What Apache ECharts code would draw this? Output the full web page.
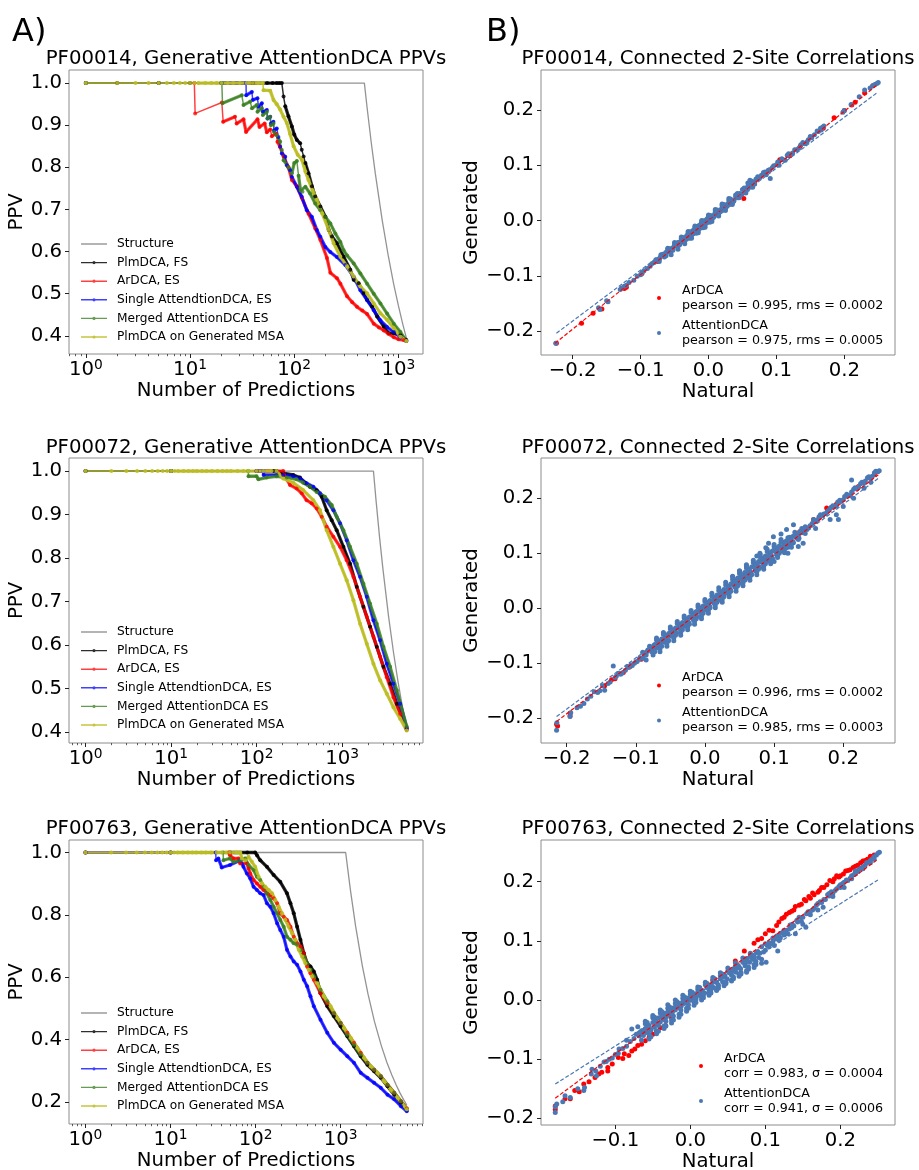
<!DOCTYPE html>
<html>
<head>
<meta charset="utf-8">
<script src="https://cdn.jsdelivr.net/npm/echarts@6/dist/echarts.min.js"></script>
<style>
  html, body { margin: 0; padding: 0; background: #ffffff; }
  #chart { width: 919px; height: 1170px; }
</style>
</head>
<body>
<div id="chart"></div>
<script>
// ---------- PPV curves: [number of predictions, PPV] ----------
const methodNames = ['Structure', 'PlmDCA, FS', 'ArDCA, ES', 'Single AttendtionDCA, ES', 'Merged AttentionDCA ES', 'PlmDCA on Generated MSA'];

// PF00014
const a1Structure = [[1,1],[471,1],[500,0.942],[550,0.856],[600,0.785],[700,0.673],[800,0.589],[900,0.523],[1000,0.471],[1100,0.428],[1194,0.394]];
const a1PlmFS = [[1,1],[2,1],[5,1],[10,1],[20,1],[40,1],[55,1],[62,1],[68,1],[72,1],[76,1],[79,0.968],[82,0.945],[88,0.921],[95,0.897],[100,0.878],[106,0.865],[114,0.857],[118,0.842],[123,0.826],[128,0.81],[137,0.786],[148,0.755],[159,0.731],[178,0.707],[199,0.683],[214,0.652],[230,0.636],[257,0.62],[298,0.588],[345,0.557],[372,0.533],[415,0.525],[464,0.501],[500,0.485],[558,0.47],[624,0.446],[723,0.422],[807,0.406],[902,0.406],[1045,0.402],[1190,0.39]];
const a1ArDCA = [[1,1],[5,1],[11,1],[11.2,0.928],[20.2,0.954],[20.8,0.908],[27,0.92],[28,0.904],[32.6,0.914],[34.5,0.884],[44.4,0.914],[46.4,0.896],[52,0.904],[54.6,0.883],[58.8,0.89],[61,0.874],[67,0.88],[69,0.861],[73,0.849],[79,0.826],[88,0.8],[95,0.77],[106,0.755],[118,0.728],[137,0.69],[159,0.655],[178,0.628],[206,0.585],[222,0.55],[257,0.537],[277,0.524],[321,0.494],[360,0.48],[400,0.469],[450,0.46],[500,0.452],[579,0.429],[650,0.42],[723,0.413],[800,0.405],[902,0.397],[1000,0.392],[1125,0.39],[1190,0.388]];
const a1Single = [[1,1],[5,1],[20,1],[34.5,1],[34.6,0.971],[39.2,0.979],[40,0.96],[44.4,0.964],[45.4,0.944],[48.9,0.952],[50,0.932],[54.6,0.936],[55.4,0.916],[58.8,0.92],[59.7,0.904],[63.2,0.908],[64,0.888],[68,0.892],[70.5,0.872],[73.3,0.849],[76,0.833],[82,0.825],[85,0.805],[91.5,0.793],[95,0.777],[106,0.754],[118,0.73],[132,0.698],[148,0.682],[165,0.651],[178,0.635],[199,0.611],[222,0.599],[257,0.587],[309,0.568],[372,0.54],[431,0.508],[500,0.485],[579,0.461],[671,0.437],[778,0.421],[902,0.409],[1045,0.397],[1190,0.388]];
const a1Merged = [[1,1],[5,1],[20.2,1],[20.5,0.952],[31.4,0.971],[32.6,0.948],[37.8,0.956],[39.3,0.94],[43.8,0.948],[44.4,0.932],[48.9,0.94],[50,0.924],[54.6,0.932],[55.4,0.916],[58.8,0.92],[59.7,0.9],[63.2,0.904],[64,0.884],[68,0.876],[73.3,0.861],[76,0.841],[79,0.817],[88,0.8],[95,0.786],[100,0.81],[106,0.815],[110,0.78],[115,0.745],[120,0.742],[128,0.754],[142,0.738],[159,0.714],[178,0.698],[199,0.682],[222,0.667],[248,0.643],[277,0.623],[298,0.603],[321,0.591],[372,0.572],[431,0.548],[500,0.524],[579,0.5],[671,0.477],[778,0.453],[902,0.429],[1045,0.409],[1190,0.388]];
const a1PlmGen = [[1,1],[2,1],[3,1],[4,1],[5,1],[6,1],[7,1],[8,1],[9,1],[10,1],[11,1],[12,1],[14,1],[16,1],[18,1],[20,1],[23,1],[26,1],[30,1],[35,1],[40,1],[45,1],[50,1],[50.7,0.983],[58.8,0.982],[63.3,0.96],[68,0.95],[73.3,0.937],[79,0.92],[85,0.905],[91,0.88],[98.6,0.85],[108,0.83],[118.5,0.818],[128,0.79],[137,0.77],[150,0.745],[165,0.723],[185,0.691],[214,0.652],[239,0.62],[277,0.588],[321,0.565],[372,0.541],[431,0.517],[500,0.501],[579,0.477],[671,0.454],[778,0.438],[902,0.418],[1045,0.398],[1190,0.388]];

// PF00072
const a2Structure = [[1,1],[2330,1],[2500,0.932],[2750,0.847],[3000,0.777],[3500,0.666],[4000,0.583],[4500,0.518],[5000,0.466],[5700,0.409]];
const a2PlmFS = [[1,1],[10,1],[100,1],[157,1],[171,1],[205,0.995],[269,0.991],[322,0.985],[368,0.973],[422,0.964],[505,0.956],[578,0.941],[661,0.91],[757,0.887],[866,0.864],[1037,0.826],[1241,0.787],[1486,0.734],[1778,0.688],[2129,0.642],[2548,0.596],[3051,0.55],[3652,0.511],[4372,0.465],[5700,0.408]];
const a2ArDCA = [[1,1],[10,1],[100,1],[205,1],[210,0.991],[246,0.968],[294,0.96],[337,0.949],[385,0.933],[441,0.926],[505,0.914],[578,0.895],[661,0.872],[792,0.849],[948,0.826],[1134,0.795],[1358,0.757],[1626,0.711],[1946,0.665],[2329,0.619],[2788,0.573],[3338,0.526],[3996,0.48],[4783,0.442],[5700,0.405]];
const a2Single = [[1,1],[10,1],[100,1],[120,1],[121,0.991],[171,0.991],[205,0.991],[269,0.988],[322,0.983],[385,0.972],[461,0.964],[552,0.949],[661,0.933],[792,0.91],[948,0.88],[1134,0.841],[1358,0.795],[1626,0.757],[1946,0.711],[2329,0.657],[2788,0.611],[3338,0.557],[3996,0.511],[4783,0.465],[5700,0.41]];
const a2Merged = [[1,1],[10,1],[80,1],[80.5,0.988],[100,0.988],[105,0.981],[131,0.985],[171,0.988],[225,0.985],[294,0.981],[352,0.973],[422,0.964],[505,0.952],[632,0.941],[757,0.922],[866,0.895],[1037,0.864],[1241,0.826],[1486,0.787],[1778,0.741],[2129,0.695],[2548,0.649],[3051,0.596],[3652,0.55],[4372,0.496],[5700,0.413]];
const a2PlmGen = [[1,1],[2,1],[3,1],[4,1],[5,1],[6,1],[7,1],[8,1],[9,1],[10,1],[11,1],[12,1],[14,1],[16,1],[18,1],[20,1],[23,1],[26,1],[30,1],[35,1],[40,1],[45,1],[50,1],[60,1],[70,1],[80,1],[100,1],[120,1],[150,1],[171,1],[205,0.983],[269,0.973],[352,0.956],[461,0.933],[552,0.91],[661,0.864],[792,0.826],[948,0.787],[1134,0.749],[1358,0.703],[1626,0.649],[1946,0.603],[2329,0.557],[2788,0.519],[3338,0.488],[3996,0.457],[4783,0.431],[5700,0.404]];

// PF00763
const a3Structure = [[1,1],[1146,1],[1300,0.882],[1500,0.764],[1800,0.637],[2100,0.546],[2500,0.458],[3000,0.382],[3500,0.327],[4000,0.287],[4500,0.255],[5000,0.229],[5500,0.208],[6000,0.191]];
const a3PlmFS = [[1,1],[10,1],[50,1],[80,1],[99,1],[104,0.991],[113.5,0.975],[136,0.954],[163,0.928],[195,0.906],[234,0.869],[257,0.837],[281,0.805],[308,0.762],[337,0.72],[369,0.677],[404,0.645],[442,0.635],[484,0.619],[530,0.592],[580,0.549],[697,0.507],[834,0.475],[1000,0.443],[1199,0.411],[1436,0.379],[1722,0.347],[2065,0.32],[2477,0.299],[2965,0.278],[3556,0.251],[4266,0.224],[5117,0.198],[6000,0.177]];
const a3ArDCA = [[1,1],[10,1],[48,1],[50,0.991],[55,0.981],[63,0.981],[65.9,0.965],[79,0.965],[82.6,0.949],[86.5,0.933],[94.7,0.912],[103.7,0.901],[113.5,0.89],[124,0.88],[136,0.869],[149,0.864],[163,0.853],[179,0.837],[195,0.805],[214,0.794],[234,0.784],[257,0.762],[281,0.73],[308,0.709],[337,0.699],[369,0.677],[404,0.635],[442,0.613],[484,0.592],[580,0.549],[697,0.517],[834,0.485],[1000,0.454],[1199,0.422],[1436,0.39],[1722,0.358],[2065,0.326],[2477,0.304],[2965,0.283],[3556,0.256],[4266,0.23],[5117,0.203],[6000,0.18]];
const a3Single = [[1,1],[10,1],[34,1],[34.3,0.975],[36.5,0.981],[40,0.952],[50,0.96],[66,0.975],[72,0.954],[79,0.933],[86.5,0.917],[94.7,0.89],[103.7,0.88],[113.5,0.869],[124,0.864],[136,0.837],[149,0.826],[163,0.805],[179,0.773],[195,0.752],[214,0.73],[234,0.688],[257,0.667],[281,0.651],[308,0.64],[337,0.619],[369,0.592],[404,0.571],[442,0.539],[484,0.507],[580,0.464],[697,0.422],[834,0.39],[1000,0.368],[1199,0.347],[1436,0.326],[1722,0.294],[2065,0.278],[2477,0.262],[2965,0.246],[3556,0.224],[4266,0.209],[5117,0.187],[6000,0.171]];
const a3Merged = [[1,1],[10,1],[41.5,1],[41.9,0.975],[50,0.981],[55,0.97],[66,0.975],[75.5,0.981],[82.6,0.96],[94.7,0.944],[103.7,0.922],[113.5,0.912],[124,0.89],[136,0.869],[149,0.848],[163,0.826],[179,0.805],[195,0.784],[214,0.762],[234,0.73],[257,0.72],[281,0.709],[308,0.704],[337,0.688],[369,0.667],[404,0.645],[442,0.624],[484,0.603],[580,0.56],[697,0.523],[834,0.485],[1000,0.454],[1199,0.416],[1436,0.384],[1722,0.353],[2065,0.326],[2477,0.304],[2965,0.283],[3556,0.256],[4266,0.23],[5117,0.203],[6000,0.177]];
const a3PlmGen = [[1,1],[2,1],[3,1],[4,1],[5,1],[6,1],[7,1],[8,1],[9,1],[10,1],[11,1],[12,1],[14,1],[16,1],[18,1],[20,1],[23,1],[26,1],[30,1],[35,1],[40,1],[45,1],[50,1],[60,1],[66,1],[69,0.981],[75.5,0.975],[82.6,0.986],[90.5,0.97],[99,0.954],[108.5,0.922],[118.8,0.901],[130,0.89],[142.5,0.88],[156,0.869],[170.7,0.848],[187,0.826],[204.6,0.805],[224,0.784],[245,0.762],[268.6,0.741],[294,0.72],[322,0.688],[352.6,0.667],[386,0.645],[423,0.624],[463,0.603],[530,0.581],[635,0.539],[762,0.507],[913,0.47],[1094,0.438],[1312,0.406],[1574,0.374],[1888,0.342],[2261,0.315],[2710,0.294],[3249,0.267],[3896,0.24],[4667,0.214],[6000,0.177]];

// ---------- connected 2-site correlations: [natural, generated] ----------
const b1ArDCA = [[-0.224,-0.222],[-0.187,-0.186],[-0.170,-0.168],[-0.157,-0.160],[-0.124,-0.123],[-0.121,-0.121],[-0.098,-0.096],[-0.075,-0.074],[-0.057,-0.057],[-0.040,-0.039],[-0.020,-0.019],[0.000,0.001],[0.020,0.021],[0.035,0.036],[0.052,0.040],[0.068,0.069],[0.090,0.091],[0.105,0.110],[0.120,0.117],[0.135,0.134],[0.150,0.151],[0.169,0.167],[0.185,0.186],[0.200,0.199],[0.211,0.209],[0.216,0.214],[0.230,0.231],[0.242,0.244]];
const b1Attention = [[-0.225,-0.222],[-0.160,-0.161],[-0.148,-0.147],[-0.128,-0.122],[-0.124,-0.119],[-0.121,-0.117],[-0.098,-0.094],[-0.095,-0.091],[-0.086,-0.083],[-0.083,-0.078],
  [-0.080,-0.076],[-0.076,-0.071],[-0.072,-0.069],[-0.070,-0.064],[-0.066,-0.062],[-0.063,-0.058],[-0.060,-0.057],[-0.058,-0.052],[-0.055,-0.051],[-0.052,-0.049],[-0.050,-0.045],[-0.047,-0.044],[-0.045,-0.040],[-0.042,-0.039],[-0.040,-0.035],[-0.038,-0.036],[-0.036,-0.031],[-0.034,-0.033],[-0.032,-0.027],[-0.030,-0.029],[-0.029,-0.024],[-0.027,-0.026],[-0.026,-0.021],[-0.024,-0.023],[-0.023,-0.018],[-0.021,-0.020],[-0.020,-0.015],[-0.018,-0.017],[-0.017,-0.012],[-0.015,-0.014],[-0.014,-0.009],[-0.012,-0.011],[-0.011,-0.006],[-0.009,-0.008],[-0.008,-0.003],[-0.006,-0.005],[-0.005,0.000],[-0.003,-0.002],[-0.002,0.003],[0.000,0.001],[0.001,0.006],[0.003,0.003],[0.005,0.008],[0.007,0.006],[0.009,0.012],[0.011,0.010],[0.013,0.016],[0.015,0.014],[0.018,0.020],[0.020,0.018],[0.023,0.025],[0.025,0.023],[0.028,0.030],[0.031,0.029],[0.034,0.036],[0.037,0.035],[0.040,0.043],[0.043,0.041],[0.046,0.049],[0.049,0.047],[0.052,0.056],[0.055,0.053],[0.058,0.062],[0.061,0.060],[0.064,0.068],[0.068,0.066],[0.072,0.075],[0.076,0.078],
  [-0.070,-0.062],[-0.065,-0.066],[-0.060,-0.052],[-0.055,-0.056],[-0.050,-0.042],[-0.045,-0.047],[-0.040,-0.032],[-0.035,-0.037],[-0.030,-0.022],[-0.025,-0.028],[-0.020,-0.012],[-0.015,-0.018],[-0.010,-0.002],[-0.005,-0.008],[0.000,0.008],[0.005,0.002],[0.010,0.017],[0.015,0.012],[0.020,0.027],[0.025,0.022],[0.030,0.036],[0.035,0.031],[0.040,0.046],[0.045,0.041],[0.050,0.056],[0.055,0.050],[0.060,0.066],[0.065,0.060],[0.070,0.075],
  [-0.0775,-0.071],[-0.0725,-0.074],[-0.0675,-0.061],[-0.0625,-0.064],[-0.0575,-0.051],[-0.0525,-0.054],[-0.0475,-0.041],[-0.0425,-0.044],[-0.0375,-0.031],[-0.0325,-0.034],[-0.0275,-0.021],[-0.0225,-0.024],[-0.0175,-0.011],[-0.0125,-0.014],[-0.0075,-0.001],[-0.0025,-0.004],[0.0025,0.009],[0.0075,0.006],[0.0125,0.019],[0.0175,0.016],[0.0225,0.029],[0.0275,0.026],[0.0325,0.039],[0.0375,0.036],[0.0425,0.049],[0.0475,0.046],[0.0525,0.059],[0.0575,0.056],[0.0625,0.069],[0.0675,0.066],[0.0725,0.079],
  [-0.060,-0.050],[-0.050,-0.040],[-0.040,-0.030],[-0.030,-0.020],[-0.020,-0.010],[-0.010,0.000],[0.000,0.010],[0.010,0.020],[0.020,0.030],[0.030,0.040],[-0.055,-0.062],[-0.045,-0.052],[-0.035,-0.042],[-0.025,-0.032],[-0.015,-0.022],[-0.005,-0.012],[0.005,-0.002],[0.015,0.008],[0.025,0.018],[0.035,0.029],
  [0.058,0.068],[0.061,0.073],[0.064,0.071],[-0.028,-0.032],[-0.018,-0.023],[-0.008,-0.013],[0.002,-0.003],
  [-0.090,-0.087],[-0.100,-0.098],[-0.105,-0.101],[-0.110,-0.108],[-0.117,-0.112],[-0.130,-0.125],[-0.150,-0.145],[-0.162,-0.158],
  [0.078,0.082],[0.083,0.088],[0.090,0.092],[0.096,0.099],[0.102,0.106],[0.110,0.110],[0.116,0.118],[0.121,0.120],[0.127,0.128],[0.133,0.131],[0.139,0.141],[0.145,0.142],[0.150,0.152],[0.156,0.155],[0.162,0.161],[0.166,0.164],[0.170,0.171],
  [0.081,0.087],[0.085,0.083],[0.088,0.091],[0.091,0.076],[0.094,0.096],[0.100,0.101],[0.104,0.100],[0.108,0.112],[0.113,0.109],[0.118,0.121],[0.124,0.122],[0.130,0.128],[0.136,0.137],[0.142,0.139],[0.147,0.146],[0.152,0.150],[0.160,0.162],[0.165,0.167],[0.168,0.169],[0.198,0.196],[0.200,0.199],[0.210,0.210],[0.222,0.224],[0.230,0.236],[0.238,0.240],[0.242,0.244],[0.245,0.246],[0.248,0.248],[0.250,0.250]];
const b1ArDCAFit = [[-0.226,-0.222],[0.248,0.245]];
const b1AttentionFit = [[-0.224,-0.204],[0.248,0.231]];

const b2ArDCA = [[-0.2145,-0.211],[-0.213,-0.214],[-0.195,-0.191],[-0.195,-0.196],[-0.145,-0.141],[-0.135,-0.130],[-0.130,-0.128],[-0.118,-0.117],[-0.108,-0.106],[-0.092,-0.093],[-0.070,-0.070],[-0.050,-0.049],[-0.030,-0.030],[0.000,0.001],[0.030,0.031],[0.060,0.061],[0.090,0.091],[0.137,0.139],[0.142,0.140],[0.157,0.161],[0.165,0.164],[0.176,0.182],[0.190,0.189],[0.205,0.204],[0.222,0.221],[0.239,0.236],[0.245,0.243]];
const b2Attention = [[-0.2145,-0.222],[-0.214,-0.208],[-0.195,-0.197],[-0.194,-0.190],[-0.180,-0.178],[-0.170,-0.165],[-0.160,-0.152],[-0.152,-0.150],[-0.145,-0.149],[-0.140,-0.137],[-0.1325,-0.105],[-0.130,-0.126],[-0.125,-0.118],[-0.120,-0.118],[-0.112,-0.106],[-0.110,-0.108],[-0.105,-0.104],[-0.100,-0.098],[-0.098,-0.097],[-0.095,-0.093],[-0.094,-0.090],[-0.090,-0.091],[-0.088,-0.086],[-0.086,-0.083],[-0.084,-0.079],
  [-0.080,-0.074],[-0.077,-0.079],[-0.074,-0.068],[-0.071,-0.073],[-0.068,-0.062],[-0.065,-0.068],[-0.062,-0.057],[-0.059,-0.062],[-0.056,-0.051],[-0.053,-0.057],[-0.050,-0.045],[-0.047,-0.051],[-0.044,-0.040],[-0.041,-0.045],[-0.038,-0.034],[-0.035,-0.039],[-0.032,-0.028],[-0.029,-0.033],[-0.026,-0.023],[-0.023,-0.027],[-0.020,-0.017],[-0.017,-0.021],[-0.014,-0.011],[-0.011,-0.015],[-0.008,-0.005],[-0.005,-0.009],[-0.002,0.001],[0.001,-0.003],[0.004,0.007],[0.007,0.003],[0.010,0.013],[0.013,0.009],[0.016,0.020],[0.019,0.015],[0.022,0.026],[0.025,0.021],[0.028,0.033],[0.031,0.027],[0.034,0.039],[0.037,0.033],[0.040,0.046],[0.043,0.039],[0.046,0.052],[0.049,0.045],[0.052,0.058],[0.055,0.050],[0.058,0.064],[0.061,0.056],[0.064,0.070],[0.067,0.062],[0.070,0.076],[0.073,0.068],[0.076,0.081],[0.079,0.074],[0.082,0.088],[0.085,0.080],[0.088,0.094],[0.091,0.086],[0.094,0.100],[0.097,0.091],[0.100,0.106],[0.104,0.097],[0.108,0.112],[0.112,0.104],[0.116,0.119],[0.120,0.111],[0.124,0.126],[0.128,0.119],[0.132,0.131],[0.136,0.127],
  [-0.090,-0.080],[-0.085,-0.094],[-0.080,-0.069],[-0.075,-0.085],[-0.070,-0.058],[-0.065,-0.074],[-0.060,-0.048],[-0.055,-0.064],[-0.050,-0.038],[-0.045,-0.054],[-0.040,-0.028],[-0.035,-0.044],[-0.030,-0.018],[-0.025,-0.034],[-0.020,-0.008],[-0.015,-0.024],[-0.010,0.002],[-0.005,-0.014],[0.000,0.012],[0.005,-0.004],[0.010,0.022],[0.015,0.006],[0.020,0.032],[0.025,0.016],[0.030,0.042],[0.035,0.026],[0.040,0.052],[0.045,0.036],[0.050,0.063],[0.055,0.046],[0.060,0.073],[0.065,0.056],[0.070,0.083],[0.075,0.066],[0.080,0.093],[0.085,0.076],[0.090,0.103],[0.095,0.086],[0.100,0.112],[0.105,0.096],[0.110,0.120],[0.115,0.106],[0.120,0.128],[0.125,0.116],[0.130,0.138],[0.135,0.125],[0.140,0.145],[0.145,0.136],
  [-0.070,-0.054],[-0.060,-0.044],[-0.050,-0.034],[-0.040,-0.024],[-0.030,-0.014],[-0.020,-0.004],[-0.010,0.006],[0.000,0.016],[0.010,0.027],[0.020,0.037],[0.030,0.047],[0.040,0.057],[0.050,0.067],[0.060,0.077],[0.070,0.087],[0.080,0.097],[0.090,0.107],[0.100,0.116],[0.110,0.125],
  [-0.065,-0.079],[-0.055,-0.069],[-0.045,-0.059],[-0.035,-0.049],[-0.025,-0.039],[-0.015,-0.029],[-0.005,-0.019],[0.005,-0.009],[0.015,0.001],[0.025,0.011],[0.035,0.021],[0.045,0.031],[0.055,0.041],[0.065,0.051],[0.075,0.061],[0.085,0.071],[0.095,0.081],[0.105,0.092],[0.115,0.101],[0.125,0.111],
  [-0.0675,-0.059],[-0.0575,-0.049],[-0.0475,-0.039],[-0.0375,-0.029],[-0.0275,-0.019],[-0.0175,-0.009],[-0.0075,0.001],[0.0025,0.011],[0.0125,0.021],[0.0225,0.031],[0.0325,0.041],[0.0425,0.051],[0.0525,0.061],[0.0625,0.071],[0.0725,0.081],[0.0825,0.091],[0.0925,0.101],[0.1025,0.110],[0.1125,0.120],[0.1225,0.129],
  [-0.0725,-0.079],[-0.0625,-0.069],[-0.0525,-0.059],[-0.0425,-0.049],[-0.0325,-0.039],[-0.0225,-0.029],[-0.0125,-0.019],[-0.0025,-0.009],[0.0075,0.001],[0.0175,0.011],[0.0275,0.021],[0.0375,0.031],[0.0475,0.041],[0.0575,0.051],[0.0675,0.061],[0.0775,0.071],[0.0875,0.081],[0.0975,0.091],[0.1075,0.100],[0.1175,0.110],
  [-0.085,-0.085],[-0.075,-0.074],[-0.065,-0.063],[-0.055,-0.053],[-0.045,-0.043],[-0.035,-0.033],[-0.025,-0.023],[-0.015,-0.013],[-0.005,-0.003],[0.005,0.007],[0.015,0.017],[0.025,0.027],[0.035,0.037],[0.045,0.047],[0.055,0.057],[0.065,0.067],[0.075,0.077],[0.085,0.087],[0.095,0.097],[0.105,0.106],[0.115,0.115],[0.125,0.124],[0.135,0.133],
  [-0.0875,-0.083],[-0.0825,-0.076],[-0.0775,-0.077],[-0.0725,-0.066],[-0.0675,-0.067],[-0.0625,-0.056],[-0.0575,-0.057],[-0.0525,-0.046],[-0.0475,-0.047],[-0.0425,-0.036],[-0.0375,-0.037],[-0.0325,-0.026],[-0.0275,-0.027],[-0.0225,-0.016],[-0.0175,-0.017],[-0.0125,-0.006],[-0.0075,-0.007],[-0.0025,0.004],[0.0025,0.003],[0.0075,0.014],[0.0125,0.013],[0.0175,0.024],[0.0225,0.023],[0.0275,0.034],[0.0325,0.033],[0.0375,0.044],[0.0425,0.043],[0.0475,0.055],[0.0525,0.053],[0.0575,0.065],[0.0625,0.063],[0.0675,0.075],[0.0725,0.073],[0.0775,0.085],[0.0825,0.083],[0.0875,0.095],[0.0925,0.093],[0.0975,0.104],[0.1025,0.102],[0.1075,0.113],[0.1125,0.111],[0.1175,0.122],[0.1225,0.120],[0.1275,0.131],[0.1325,0.128],[0.1375,0.139],[0.1425,0.140],[0.1475,0.143],
  [0.152,0.150],[0.157,0.161],[0.162,0.160],[0.167,0.170],[0.172,0.171],[0.177,0.176],[0.182,0.183],[0.187,0.184],[0.192,0.193],[0.197,0.194],[0.202,0.203],[0.207,0.204],[0.212,0.211],[0.217,0.219],[0.222,0.220],[0.227,0.229],[0.232,0.231],[0.237,0.239],[0.242,0.240],[0.247,0.249],
  [-0.102,-0.100],[-0.107,-0.103],[-0.115,-0.113],[-0.122,-0.120],[-0.128,-0.123],[-0.137,-0.134],[-0.148,-0.141],[-0.155,-0.153],[-0.165,-0.160],[-0.175,-0.173],[-0.185,-0.181],
  [-0.060,-0.060],[-0.030,-0.030],[0.000,0.000],[0.030,0.030],[0.060,0.060],[0.090,0.090],[0.120,0.118],
  [0.040,0.058],[0.050,0.068],[0.060,0.079],[0.075,0.095],[0.0795,0.100],[0.088,0.110],[0.092,0.118],[0.099,0.130],[0.110,0.135],[0.118,0.143],[0.128,0.1515],[0.100,0.085],[0.120,0.100],[0.135,0.112],[0.142,0.118],[0.160,0.145],[0.181,0.161],[0.193,0.161],[0.190,0.170],[0.200,0.185],[0.215,0.200],[0.230,0.218],[0.240,0.229],[0.212,0.233],
  [0.140,0.137],[0.145,0.148],[0.150,0.146],[0.155,0.154],[0.160,0.157],[0.165,0.166],[0.170,0.168],[0.175,0.172],[0.180,0.179],[0.185,0.186],[0.190,0.186],[0.195,0.196],[0.200,0.197],[0.205,0.207],[0.210,0.205],[0.215,0.216],[0.220,0.217],[0.225,0.226],[0.230,0.227],[0.235,0.237],[0.240,0.236],[0.245,0.246],[0.250,0.248],[0.252,0.250]];
const b2ArDCAFit = [[-0.2145,-0.206],[0.2506,0.2424]];
const b2AttentionFit = [[-0.2145,-0.197],[0.2506,0.236]];

const b3ArDCA = [[-0.180,-0.179],[-0.180,-0.185],[-0.167,-0.167],[-0.160,-0.167],[-0.154,-0.153],[-0.148,-0.155],[-0.142,-0.142],[-0.135,-0.138],[-0.127,-0.131],[-0.122,-0.125],[-0.118,-0.122],[-0.110,-0.114],[-0.110,-0.120],[-0.104,-0.108],[-0.096,-0.097],[-0.090,-0.099],[-0.088,-0.091],[-0.082,-0.094],[-0.078,-0.086],[-0.074,-0.083],[-0.070,-0.077],[-0.065,-0.075],[-0.060,-0.069],[-0.055,-0.064],[-0.050,-0.058],[-0.045,-0.053],[-0.040,-0.047],[-0.035,-0.045],[-0.033,-0.043],[-0.025,-0.030],[0.000,0.000],[0.030,0.034],[0.060,0.066],[0.072,0.083],[0.085,0.096],[0.090,0.102],[0.095,0.104],[0.100,0.112],[0.105,0.118],[0.110,0.117],[0.115,0.126],[0.118,0.132],[0.122,0.138],[0.125,0.140],[0.128,0.145],[0.132,0.148],[0.135,0.150],[0.138,0.152],[0.140,0.158],[0.145,0.160],[0.148,0.162],[0.152,0.170],[0.154,0.168],[0.158,0.175],[0.160,0.172],[0.163,0.181],[0.165,0.178],[0.170,0.182],[0.172,0.185],[0.175,0.190],[0.178,0.190],[0.182,0.195],[0.186,0.202],[0.190,0.200],[0.192,0.205],[0.195,0.210],[0.198,0.208],[0.200,0.210],[0.204,0.213],[0.207,0.218],[0.210,0.219],[0.213,0.220],[0.217,0.224],[0.220,0.226],[0.223,0.228],[0.227,0.232],[0.230,0.235],[0.233,0.236],[0.236,0.238],[0.240,0.243],[0.242,0.242],[0.245,0.245]];
const b3Attention = [[-0.180,-0.190],[-0.180,-0.181],[-0.178,-0.176],[-0.170,-0.172],[-0.167,-0.162],[-0.160,-0.165],[-0.150,-0.150],[-0.142,-0.153],[-0.141,-0.148],[-0.132,-0.125],[-0.131,-0.117],[-0.126,-0.120],[-0.125,-0.128],[-0.120,-0.112],[-0.115,-0.105],[-0.112,-0.104],[-0.108,-0.100],[-0.104,-0.098],[-0.100,-0.092],[-0.096,-0.090],[-0.095,-0.083],[-0.090,-0.082],[-0.085,-0.078],[-0.085,-0.068],[-0.078,-0.049],[-0.080,-0.070],[-0.075,-0.065],[-0.072,-0.058],[-0.068,-0.061],[-0.065,-0.052],[-0.062,-0.055],
  [-0.060,-0.048],[-0.058,-0.055],[-0.055,-0.043],[-0.053,-0.050],[-0.050,-0.038],[-0.048,-0.046],[-0.046,-0.034],[-0.044,-0.041],[-0.042,-0.030],[-0.040,-0.037],[-0.038,-0.027],[-0.036,-0.033],[-0.034,-0.023],[-0.032,-0.029],[-0.030,-0.020],[-0.028,-0.025],[-0.026,-0.016],[-0.024,-0.021],[-0.022,-0.013],[-0.020,-0.017],[-0.018,-0.010],[-0.016,-0.013],[-0.014,-0.006],[-0.012,-0.010],[-0.010,-0.003],[-0.008,-0.006],[-0.006,0.001],[-0.004,-0.003],[-0.002,0.004],[0.000,0.000],[0.002,0.007],[0.004,0.003],[0.006,0.010],[0.008,0.005],[0.010,0.013],[0.013,0.008],[0.016,0.016],[0.019,0.012],[0.022,0.021],[0.025,0.016],[0.028,0.026],[0.031,0.021],[0.034,0.031],[0.037,0.026],[0.040,0.036],[0.043,0.031],[0.046,0.042],[0.049,0.036],[0.052,0.047],[0.055,0.042],[0.058,0.053],[0.061,0.047],[0.064,0.058],[0.067,0.053],[0.070,0.064],[0.073,0.058],[0.076,0.070],[0.079,0.064],[0.082,0.075],[0.085,0.068],[0.088,0.080],[0.091,0.072],
  [-0.070,-0.045],[-0.065,-0.068],[-0.060,-0.040],[-0.055,-0.058],[-0.050,-0.030],[-0.045,-0.052],[-0.040,-0.022],[-0.035,-0.044],[-0.030,-0.014],[-0.025,-0.034],[-0.020,-0.006],[-0.015,-0.024],[-0.010,0.003],[-0.005,-0.014],[0.000,0.010],[0.005,-0.004],[0.010,0.018],[0.015,0.004],[0.020,0.026],[0.025,0.012],[0.030,0.033],[0.035,0.019],[0.040,0.041],[0.045,0.027],[0.050,0.049],[0.055,0.034],[0.060,0.057],[0.065,0.043],[0.070,0.066],[0.075,0.050],[0.080,0.074],[0.085,0.060],[0.090,0.082],[0.095,0.069],
  [-0.060,-0.036],[-0.050,-0.026],[-0.040,-0.017],[-0.030,-0.008],[-0.020,0.000],[-0.010,0.008],[0.000,0.015],[0.010,0.022],[0.020,0.030],[0.030,0.038],[0.040,0.046],[0.050,0.054],[0.060,0.063],[0.070,0.071],[0.080,0.079],
  [-0.055,-0.066],[-0.045,-0.057],[-0.035,-0.048],[-0.025,-0.039],[-0.015,-0.029],[-0.005,-0.019],[0.005,-0.009],[0.015,0.000],[0.025,0.008],[0.035,0.016],[0.045,0.024],[0.055,0.032],[0.065,0.040],[0.075,0.047],[0.085,0.055],[0.095,0.062],
  [-0.0575,-0.038],[-0.0475,-0.029],[-0.0375,-0.020],[-0.0275,-0.012],[-0.0175,-0.003],[-0.0075,0.005],[0.0025,0.013],[0.0125,0.021],[0.0225,0.028],[0.0325,0.036],[0.0425,0.044],[0.0525,0.051],[0.0625,0.059],[0.0725,0.067],[0.0825,0.076],
  [-0.0525,-0.062],[-0.0425,-0.053],[-0.0325,-0.044],[-0.0225,-0.034],[-0.0125,-0.024],[-0.0025,-0.014],[0.0075,-0.004],[0.0175,0.004],[0.0275,0.012],[0.0375,0.020],[0.0475,0.028],[0.0575,0.036],[0.0675,0.044],[0.0775,0.052],[0.0875,0.060],
  [-0.065,-0.056],[-0.055,-0.047],[-0.045,-0.039],[-0.035,-0.030],[-0.025,-0.021],[-0.015,-0.012],[-0.005,-0.003],[0.005,0.005],[0.015,0.013],[0.025,0.022],[0.035,0.030],[0.045,0.039],[0.055,0.047],[0.065,0.056],[0.075,0.064],[0.085,0.073],
  [-0.0675,-0.055],[-0.0625,-0.060],[-0.0575,-0.045],[-0.0525,-0.051],[-0.0475,-0.036],[-0.0425,-0.043],[-0.0375,-0.027],[-0.0325,-0.036],[-0.0275,-0.018],[-0.0225,-0.027],[-0.0175,-0.009],[-0.0125,-0.017],[-0.0075,0.000],[-0.0025,-0.008],[0.0025,0.008],[0.0075,0.001],[0.0125,0.016],[0.0175,0.009],[0.0225,0.023],[0.0275,0.017],[0.0325,0.031],[0.0375,0.024],[0.0425,0.039],[0.0475,0.031],[0.0525,0.046],[0.0575,0.039],[0.0625,0.054],[0.0675,0.047],[0.0725,0.062],[0.0775,0.056],[0.0825,0.070],[0.0875,0.065],[0.0925,0.079],[0.0975,0.081],
  [0.1025,0.092],[0.1075,0.095],[0.113,0.103],[0.118,0.108],[0.123,0.114],[0.128,0.112],[0.133,0.127],[0.138,0.125],[0.143,0.132],[0.150,0.140],[0.157,0.149],[0.163,0.152],[0.168,0.160],[0.173,0.166],[0.178,0.170],[0.183,0.178],[0.188,0.183],[0.193,0.185],[0.198,0.192],[0.203,0.197],[0.208,0.203],[0.213,0.206],[0.218,0.212],[0.223,0.217],[0.228,0.223],[0.233,0.228],[0.238,0.233],[0.243,0.239],[0.248,0.245],
  [0.095,0.090],[0.100,0.084],[0.101,0.064],[0.105,0.097],[0.110,0.098],[0.112,0.092],[0.1165,0.083],[0.115,0.108],[0.118,0.101],[0.120,0.113],[0.125,0.110],[0.128,0.118],[0.132,0.120],[0.136,0.128],[0.140,0.112],[0.142,0.135],[0.148,0.133],[0.154,0.123],[0.155,0.146],[0.160,0.144],[0.165,0.155],[0.170,0.152],[0.177,0.157],[0.180,0.170],[0.185,0.176],[0.190,0.180],[0.195,0.188],[0.200,0.190],[0.205,0.199],[0.210,0.202],[0.215,0.210],[0.220,0.213],[0.225,0.221],[0.230,0.225],[0.235,0.232],[0.240,0.236],[0.245,0.242],[0.250,0.248],[0.252,0.250],
  [0.100,0.095],[0.105,0.090],[0.110,0.105],[0.120,0.105],[0.125,0.118],[0.130,0.112],[0.135,0.122],[0.145,0.140],[0.150,0.128],[0.160,0.150],[0.170,0.163],[0.175,0.165],[0.185,0.180],[0.190,0.175],[0.200,0.195],[0.205,0.190],[0.215,0.205],[0.220,0.218],[0.230,0.222],[0.240,0.232],[0.245,0.238]];
const b3ArDCAFit = [[-0.180,-0.166],[0.250,0.238]];
const b3AttentionFit = [[-0.180,-0.142],[0.250,0.203]];

// ---------- tick values ----------
const logMajorTicks = [1, 10, 100, 1000];
const logMinorTicks1 = [0.7,0.8,0.9,2,3,4,5,6,7,8,9,20,30,40,50,60,70,80,90,200,300,400,500,600,700,800,900];
const logMinorTicks2 = logMinorTicks1.concat([2000,3000,4000,5000,6000,7000,8000]);
const logMinorTicks3 = logMinorTicks2.concat([9000]);
const ppvTicks1 = [0.4, 0.5, 0.6, 0.7, 0.8, 0.9, 1.0];
const ppvTicks3 = [0.2, 0.4, 0.6, 0.8, 1.0];
const corrTicks = [-0.2, -0.1, 0.0, 0.1, 0.2];
const corrTicksB3 = [-0.1, 0.0, 0.1, 0.2];

// ---------- styling ----------
const FONT = 'DejaVu Sans';
const BIG = 19.7;
const methodColors = ['rgba(128,128,128,0.85)', 'rgba(0,0,0,0.82)', 'rgba(255,0,0,0.75)', 'rgba(0,0,255,0.75)', 'rgba(58,128,32,0.78)', 'rgba(188,189,34,0.88)'];
const RED = '#ff0000';
const STEEL = '#4a78b4';
// beyond this many predictions the per-point markers run together into a heavy stroke
const DENSE_FROM = 12;

const grids = [
  { left: 69, top: 70, width: 354, height: 284 },
  { left: 69, top: 458, width: 354, height: 285 },
  { left: 69, top: 840, width: 354, height: 284 },
  { left: 541, top: 70, width: 354, height: 285 },
  { left: 541, top: 458, width: 354, height: 285 },
  { left: 541, top: 840, width: 354, height: 285 }
].map(g => Object.assign(g, { show: true, borderColor: '#8c8c8c', borderWidth: 1, backgroundColor: 'transparent', containLabel: false, outerBoundsMode: 'none' }));

const tickStyle = { show: true, length: 4, lineStyle: { color: '#222', width: 1 } };

function logAxis(gridIndex, min, max) {
  return {
    type: 'log', logBase: 10, gridIndex, min, max, position: 'bottom',
    axisLine: { show: false, onZero: false }, splitLine: { show: false },
    axisTick: Object.assign({ customValues: logMajorTicks }, tickStyle),
    axisLabel: {
      customValues: logMajorTicks, margin: 4, color: '#000',
      formatter: v => '{b|10}{s|' + Math.round(Math.log10(v)) + '}',
      rich: {
        b: { fontFamily: FONT, fontSize: BIG, color: '#000', lineHeight: 22, verticalAlign: 'bottom' },
        s: { fontFamily: FONT, fontSize: 13.8, color: '#000', lineHeight: 14, verticalAlign: 'top' }
      }
    },
    name: 'Number of Predictions', nameLocation: 'middle', nameGap: 24,
    nameTextStyle: { fontFamily: FONT, fontSize: BIG, color: '#000' }
  };
}
function logMinorAxis(gridIndex, min, max, minors) {
  return {
    type: 'log', logBase: 10, gridIndex, min, max, position: 'bottom',
    axisLine: { show: false, onZero: false }, splitLine: { show: false }, axisLabel: { show: false },
    axisTick: { show: true, customValues: minors, length: 2.2, lineStyle: { color: '#333', width: 0.8 } }
  };
}
function ppvAxis(gridIndex, min, max, ticks) {
  return {
    type: 'value', gridIndex, min, max,
    axisLine: { show: false, onZero: false }, splitLine: { show: false },
    axisTick: Object.assign({ customValues: ticks }, tickStyle),
    axisLabel: { customValues: ticks, margin: 7, color: '#000', fontFamily: FONT, fontSize: BIG, formatter: v => v.toFixed(1) },
    name: 'PPV', nameLocation: 'middle', nameGap: 37,
    nameTextStyle: { fontFamily: FONT, fontSize: BIG, color: '#000' }
  };
}
const signed = v => (v < -1e-9 ? '\u2212' : '') + Math.abs(v).toFixed(1);
function corrAxis(gridIndex, min, max, ticks, isX) {
  return {
    type: 'value', gridIndex, min, max,
    axisLine: { show: false, onZero: false }, splitLine: { show: false },
    axisTick: Object.assign({ customValues: ticks }, tickStyle),
    axisLabel: { customValues: ticks, margin: isX ? 6 : 7, color: '#000', fontFamily: FONT, fontSize: BIG, formatter: signed },
    name: isX ? 'Natural' : 'Generated', nameLocation: 'middle', nameGap: isX ? 24 : 53,
    nameTextStyle: { fontFamily: FONT, fontSize: BIG, color: '#000' }
  };
}

const xAxes = [
  logAxis(0, 0.69, 1720), logAxis(1, 0.64, 8850), logAxis(2, 0.64, 9300),
  corrAxis(3, -0.2467, 0.2747, corrTicks, true),
  corrAxis(4, -0.237, 0.2748, corrTicks, true),
  corrAxis(5, -0.199, 0.2728, corrTicksB3, true),
  logMinorAxis(0, 0.69, 1720, logMinorTicks1), logMinorAxis(1, 0.64, 8850, logMinorTicks2), logMinorAxis(2, 0.64, 9300, logMinorTicks3)
];
const yAxes = [
  ppvAxis(0, 0.357, 1.031, ppvTicks1), ppvAxis(1, 0.375, 1.03, ppvTicks1), ppvAxis(2, 0.13, 1.04, ppvTicks3),
  corrAxis(3, -0.2434, 0.2724, corrTicks, false),
  corrAxis(4, -0.245, 0.273, corrTicks, false),
  corrAxis(5, -0.2113, 0.2705, corrTicks, false)
];

// heavy stroke for the marker-dense part of a curve; single-step drops stay thin
function denseStroke(data) {
  const out = [];
  data.forEach(p => {
    if (p[0] < DENSE_FROM) return;
    const prev = out.length ? out[out.length - 1] : null;
    if (prev && prev[1] !== '-' && p[0] / prev[0] < 1.045 && prev[1] - p[1] > 0.012) out.push([p[0], '-']);
    out.push(p);
  });
  return out;
}
function ppvSeries(idx, curves) {
  const list = [];
  curves.forEach((data, k) => {
    list.push({
      type: 'line', name: methodNames[k], xAxisIndex: idx, yAxisIndex: idx, data,
      symbol: k === 0 ? 'none' : 'circle', symbolSize: 4, showSymbol: k !== 0, showAllSymbol: true,
      lineStyle: { color: methodColors[k], width: k === 0 ? 1.3 : 1.5 },
      itemStyle: { color: methodColors[k], borderWidth: 0 },
      silent: true, animation: false
    });
    if (k > 0) {
      list.push({
        type: 'line', name: methodNames[k], xAxisIndex: idx, yAxisIndex: idx, data: denseStroke(data),
        symbol: 'none', showSymbol: false, connectNulls: false,
        lineStyle: { color: methodColors[k], width: 3.3, join: 'round', cap: 'round' },
        itemStyle: { color: methodColors[k] },
        silent: true, animation: false
      });
    }
  });
  return list;
}
function corrSeries(idx, redName, blueName, red, blue, redFit, blueFit) {
  return [
    { type: 'scatter', name: redName, xAxisIndex: idx, yAxisIndex: idx, data: red, symbolSize: 5, itemStyle: { color: RED, borderWidth: 0, opacity: 1 }, silent: true, animation: false },
    { type: 'scatter', name: blueName, xAxisIndex: idx, yAxisIndex: idx, data: blue, symbolSize: 5, itemStyle: { color: STEEL, borderWidth: 0, opacity: 1 }, silent: true, animation: false },
    { type: 'line', name: 'ArDCA trend', xAxisIndex: idx, yAxisIndex: idx, data: redFit, symbol: 'none', lineStyle: { color: RED, width: 1.2, type: [4, 2] }, silent: true, animation: false },
    { type: 'line', name: 'AttentionDCA trend', xAxisIndex: idx, yAxisIndex: idx, data: blueFit, symbol: 'none', lineStyle: { color: STEEL, width: 1.2, type: [4, 2] }, silent: true, animation: false }
  ];
}

const b1Names = ['ArDCA\npearson = 0.995, rms = 0.0002', 'AttentionDCA\npearson = 0.975, rms = 0.0005'];
const b2Names = ['ArDCA\npearson = 0.996, rms = 0.0002', 'AttentionDCA\npearson = 0.985, rms = 0.0003'];
const b3Names = ['ArDCA\ncorr = 0.983, \u03c3 = 0.0004', 'AttentionDCA\ncorr = 0.941, \u03c3 = 0.0006'];

const series = [].concat(
  ppvSeries(0, [a1Structure, a1PlmFS, a1ArDCA, a1Single, a1Merged, a1PlmGen]),
  ppvSeries(1, [a2Structure, a2PlmFS, a2ArDCA, a2Single, a2Merged, a2PlmGen]),
  ppvSeries(2, [a3Structure, a3PlmFS, a3ArDCA, a3Single, a3Merged, a3PlmGen]),
  corrSeries(3, b1Names[0], b1Names[1], b1ArDCA, b1Attention, b1ArDCAFit, b1AttentionFit),
  corrSeries(4, b2Names[0], b2Names[1], b2ArDCA, b2Attention, b2ArDCAFit, b2AttentionFit),
  corrSeries(5, b3Names[0], b3Names[1], b3ArDCA, b3Attention, b3ArDCAFit, b3AttentionFit)
);

// legend icons: short line (with a dot for marker-styled curves), padded to leave a gap before the text
const ICON_LINE = 'path://M0,0M31,14M0,6.3h26v1.4h-26z';
const ICON_LINE_DOT = 'path://M0,0M31,14M0,6.3h26v1.4h-26zM11.4,7a1.6,1.6 0 1,1 3.2,0a1.6,1.6 0 1,1 -3.2,0z';
function ppvLegend(top) {
  return {
    orient: 'vertical', left: 81, top, padding: 0, itemGap: 4.6, itemWidth: 31, itemHeight: 14,
    selectedMode: false, symbolKeepAspect: true,
    textStyle: { fontFamily: FONT, fontSize: 12.2, color: '#000', lineHeight: 14, padding: 0 },
    data: methodNames.map((n, k) => ({ name: n, icon: k === 0 ? ICON_LINE : ICON_LINE_DOT }))
  };
}
// the legend box is placed by its content bounds, which start at the dot (16px into the item)
function corrLegend(left, top, names) {
  return {
    orient: 'vertical', left, top, padding: 0, itemGap: 5, itemWidth: 36, itemHeight: 4,
    selectedMode: false,
    textStyle: { fontFamily: FONT, fontSize: 12.7, color: '#000', lineHeight: 15 },
    data: names.map(n => ({ name: n, icon: 'circle' }))
  };
}

const titleStyle = { fontFamily: FONT, fontSize: BIG, fontWeight: 'normal', color: '#000' };
function panelTitle(text, cx, top) {
  return { text, left: cx, top, textAlign: 'center', padding: 0, textStyle: titleStyle };
}

const option = {
  animation: false,
  backgroundColor: '#ffffff',
  textStyle: { fontFamily: FONT },
  title: [
    { text: 'A)', left: 12, top: 17, padding: 0, textStyle: { fontFamily: FONT, fontSize: 32, fontWeight: 'normal', color: '#000' } },
    { text: 'B)', left: 486, top: 17, padding: 0, textStyle: { fontFamily: FONT, fontSize: 32, fontWeight: 'normal', color: '#000' } },
    panelTitle('PF00014, Generative AttentionDCA PPVs', 246, 49),
    panelTitle('PF00072, Generative AttentionDCA PPVs', 246, 438),
    panelTitle('PF00763, Generative AttentionDCA PPVs', 246, 819),
    panelTitle('PF00014, Connected 2-Site Correlations', 718, 49),
    panelTitle('PF00072, Connected 2-Site Correlations', 718, 438),
    panelTitle('PF00763, Connected 2-Site Correlations', 718, 819)
  ],
  legend: [
    ppvLegend(237), ppvLegend(625), ppvLegend(1006),
    corrLegend(657, 283, b1Names), corrLegend(657, 670.5, b2Names), corrLegend(699, 1051, b3Names)
  ],
  grid: grids,
  xAxis: xAxes,
  yAxis: yAxes,
  series
};

const chart = echarts.init(document.getElementById('chart'), null, { renderer: 'canvas' });
chart.setOption(option);
</script>
</body>
</html>
